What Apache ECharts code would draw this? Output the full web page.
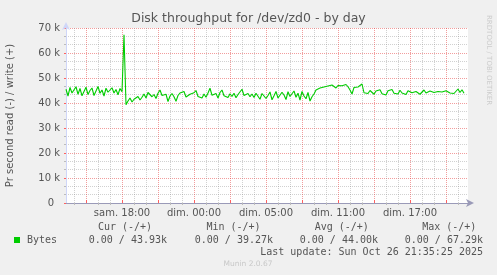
<!DOCTYPE html>
<html><head><meta charset="utf-8">
<script src="https://cdn.jsdelivr.net/npm/echarts@6/dist/echarts.min.js"></script>
<style>html,body{margin:0;padding:0;background:#F0F0F0;}#c{width:497px;height:275px;}</style>
</head><body><div id="c"></div>
<script>
// write throughput, k bytes/s, one value per 10 minutes (oldest first)
const segBeforeSpike = [45.5, 42.8, 46.2, 44.0, 43.2, 46.5, 43.5, 45.8, 42.9, 44.6, 46.3, 43.4, 45.0, 46.0, 43.0, 44.8, 46.6, 43.9, 45.2, 42.8, 45.9, 44.3, 43.6, 46.1, 44.0, 45.4, 43.3, 45.8, 44.5];
const segSpike = [67.29];
const segAfterSpike = [39.3, 40.8, 42.0, 40.4, 41.5, 40.9, 42.6, 41.2];
const segNight = [42.3, 43.6, 42.0, 44.2, 44.9, 42.5, 43.4, 41.8, 43.9, 45.2, 43.0, 42.2, 43.5, 40.6, 42.8,
  43.8, 42.5, 40.7, 43.0, 44.0, 43.2, 44.6, 42.4, 41.9, 43.5, 42.8, 44.1, 45.0, 42.6, 43.2,
  42.0, 43.6, 42.3, 44.0, 45.9, 43.1, 42.4, 43.8, 42.0, 44.2, 45.2, 42.9, 43.5, 42.2, 43.7,
  42.6, 43.9, 42.1, 43.4, 44.1, 45.5, 43.0, 42.3, 43.8, 42.5, 43.6, 42.2, 43.9];
const segMorning = [44.2, 41.5, 43.8, 44.5, 41.8, 43.0, 44.4, 41.3, 42.9, 44.6, 42.0, 41.6, 44.3, 43.2, 41.4, 44.5, 42.6, 41.9, 44.8, 42.3, 43.9, 41.2, 44.6, 42.8, 41.7, 44.2, 40.8, 42.5, 43.6];
const segMidday = [45.2, 44.8, 46.0, 45.5, 46.4, 45.9, 46.8, 46.2, 47.2, 46.5, 46.0, 47.0, 46.3, 46.9, 46.1, 47.4, 46.5, 45.2, 43.6, 46.2, 47.0, 46.4, 46.5, 47.6];
const segEvening = [44.1, 44.6, 43.8, 45.0, 44.3, 43.5, 44.8, 44.0, 45.3, 43.7, 44.5, 43.2, 44.9, 44.2, 45.4, 43.9, 44.4, 43.6, 45.1, 44.0, 44.7, 43.4, 44.9, 45.5, 44.1, 43.8, 44.6, 45.0, 43.5, 44.3, 45.2, 44.0, 43.7, 44.8, 45.3, 44.2, 43.9, 44.6, 45.1, 44.4, 43.6, 44.9, 45.4, 44.0, 44.5, 43.8, 44.7, 45.6, 44.2, 45.3, 43.93];
const writeK = [].concat(segBeforeSpike, segSpike, segAfterSpike, segNight, segMorning, segMidday, segEvening, [null, null]);

const slots = writeK.map((_, i) => String(i));
const tickSlots = [28, 64, 100, 136, 172];
const tickLabels = ['sam. 18:00', 'dim. 00:00', 'dim. 05:00', 'dim. 11:00', 'dim. 17:00'];
const majorFirst = 10, majorStep = 18, minorStep = 6;

const statHeads = ['Cur (-/+)', 'Min (-/+)', 'Avg (-/+)', 'Max (-/+)'];
const statValues = ['0.00 / 43.93k', '0.00 / 39.27k', '0.00 / 44.00k', '0.00 / 67.29k'];
const seriesName = 'Bytes';
const lastUpdate = 'Last update: Sun Oct 26 21:35:25 2025';

const isMajor = i => i >= majorFirst && (i - majorFirst) % majorStep === 0;
const isMinor = i => (i - majorFirst) % minorStep === 0 && !isMajor(i) && i > 0 && i < slots.length - 1;

const MONO = 'DejaVu Sans Mono';
const SANS = 'DejaVu Sans';
const txt = (text, x, y, align, font, fill) => ({
  type: 'text', x: x, y: y, silent: true,
  style: { text: text, font: font, fill: fill, textAlign: align, align: align, textVerticalAlign: 'middle', verticalAlign: 'middle' }
});

const statCenters = [125, 233.5, 341.8, 449.3];
const valueRight = [167, 273, 378, 483];
const graphics = [];
statHeads.forEach((h, k) => graphics.push(txt(h, statCenters[k], 227.5, 'center', '10px ' + MONO, '#555')));
statValues.forEach((v, k) => graphics.push(txt(v, valueRight[k], 240, 'right', '10px ' + MONO, '#555')));
graphics.push(txt(seriesName, 27, 240, 'left', '10px ' + MONO, '#555'));
graphics.push({ type: 'rect', shape: { x: 14, y: 237, width: 6, height: 6 }, style: { fill: '#00CC00' }, silent: true });
graphics.push(txt(lastUpdate, 483, 252, 'right', '10px ' + MONO, '#555'));
graphics.push(txt('Munin 2.0.67', 248, 264, 'center', '7.5px ' + SANS, '#c8c8c8'));
graphics.push({ type: 'text', x: 489, y: 15, rotation: -Math.PI / 2, silent: true,
  style: { text: 'RRDTOOL / TOBI OETIKER', font: '7px ' + SANS, fill: '#cccccc', textAlign: 'left', align: 'left', textVerticalAlign: 'middle', verticalAlign: 'middle' } });

const chart = echarts.init(document.getElementById('c'), null, { renderer: 'canvas' });
chart.setOption({
  animation: false,
  backgroundColor: '#F0F0F0',
  title: { text: 'Disk throughput for /dev/zd0 - by day', left: 'center', top: 12, padding: 0,
    textStyle: { color: '#555', fontWeight: 'normal', fontSize: 12.5, fontFamily: SANS } },
  grid: { left: 66, top: 28, width: 402, height: 175, show: true, backgroundColor: '#FFFFFF', borderWidth: 0,
    containLabel: false, outerBoundsMode: 'none' },
  xAxis: [
    { type: 'category', data: slots, boundaryGap: false, gridIndex: 0,
      axisLine: { show: false }, axisLabel: { show: false },
      axisTick: { show: true, interval: isMinor, length: 2, lineStyle: { color: '#bbbbbb' } },
      splitLine: { show: true, interval: isMinor, lineStyle: { color: 'rgba(140,140,140,0.4)', type: [1, 1], width: 1 } } },
    { type: 'category', data: slots, boundaryGap: false, gridIndex: 0, position: 'bottom',
      axisLine: { show: true, lineStyle: { color: '#9a9ab8', width: 1 }, symbol: ['none', 'arrow'], symbolSize: [6, 8], symbolOffset: [0, 6] },
      axisTick: { show: true, interval: isMajor, length: 3, inside: true, lineStyle: { color: '#ff6060' } },
      axisLabel: { show: true, interval: isMajor, margin: 5, color: '#555', fontSize: 10, fontFamily: SANS,
        formatter: (v) => { const k = tickSlots.indexOf(Number(v)); return k >= 0 ? tickLabels[k] : ''; } },
      splitLine: { show: true, interval: isMajor, lineStyle: { color: 'rgba(230,60,60,0.5)', type: [1, 1], width: 1 } } }
  ],
  yAxis: {
    type: 'value', min: 0, max: 70, interval: 10,
    name: 'Pr second read (-) / write (+)', nameLocation: 'middle', nameGap: 51,
    nameTextStyle: { color: '#555', fontSize: 10, fontFamily: SANS },
    axisLine: { show: true, lineStyle: { color: '#CFD6F8' }, symbol: ['none', 'arrow'], symbolSize: [6, 8], symbolOffset: [0, 6] },
    axisTick: { show: true, length: 2, lineStyle: { color: '#ff6060' } },
    minorTick: { show: true, splitNumber: 3, length: 2, lineStyle: { color: '#bbbbbb' } },
    axisLabel: { margin: 6, color: '#555', fontSize: 10, fontFamily: SANS,
      formatter: v => v === 0 ? '{z|0}' : v + ' k', rich: { z: { padding: [0, 6, 0, 0], color: '#555', fontSize: 10, fontFamily: SANS } } },
    splitLine: { show: true, lineStyle: { color: 'rgba(230,60,60,0.5)', type: [1, 1], width: 1 } },
    minorSplitLine: { show: true, lineStyle: { color: 'rgba(140,140,140,0.4)', type: [1, 1], width: 1 } }
  },
  series: [{ type: 'line', name: seriesName, xAxisIndex: 0, data: writeK, showSymbol: false, connectNulls: false,
    lineStyle: { color: '#00CC00', width: 1.1 }, itemStyle: { color: '#00CC00' } }],
  graphic: graphics
});
</script></body></html>
